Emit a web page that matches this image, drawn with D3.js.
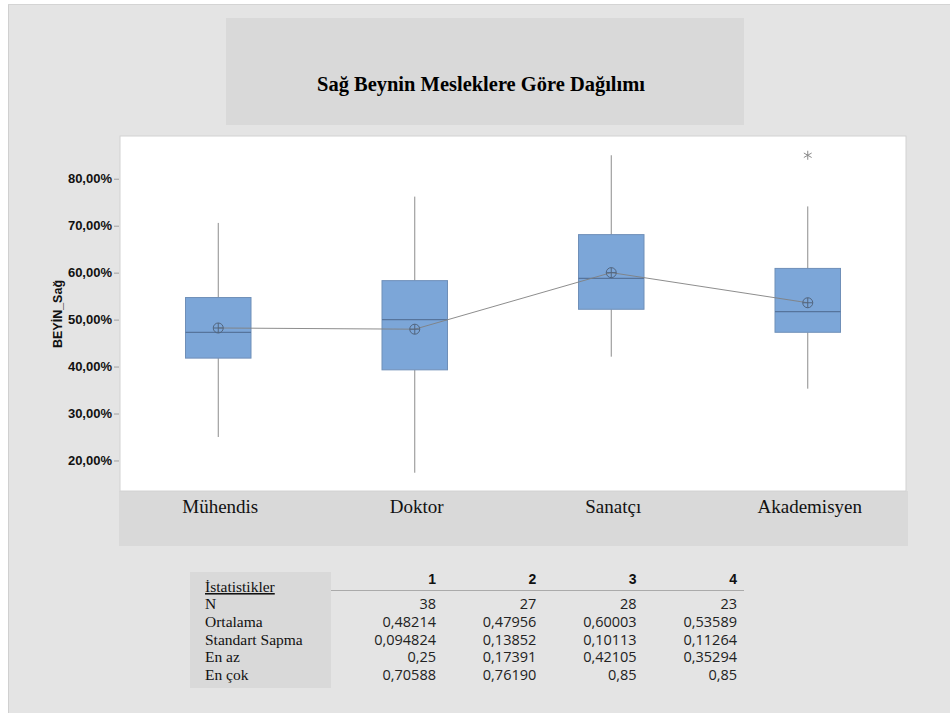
<!DOCTYPE html>
<html>
<head>
  <meta charset="utf-8">
  <title>Sağ Beynin Mesleklere Göre Dağılımı</title>
  <style>
    body { margin: 0; background: #ffffff; }
    svg { display: block; }
  </style>
</head>
<body>
  <div id="chart"></div>

  <script src="https://d3js.org/d3.v7.min.js"></script>
  <script>
    // Groups and box values
    var categories = ["Mühendis", "Doktor", "Sanatçı", "Akademisyen"];
    var q1 = [0.418, 0.393, 0.522, 0.473];
    var medians = [0.473, 0.500, 0.588, 0.517];
    var q3 = [0.547, 0.583, 0.681, 0.609];
    var whiskerLow = [0.25, 0.17391, 0.42105, 0.35294];
    var whiskerHigh = [0.70588, 0.76190, 0.85, 0.741];
    var means = [0.48214, 0.47956, 0.60003, 0.53589];
    var outliers = [[], [], [], [0.85]];

    var yTicks = [0.2, 0.3, 0.4, 0.5, 0.6, 0.7, 0.8];

    // Statistics table
    var statColumns = ["1", "2", "3", "4"];
    var statRows = ["N", "Ortalama", "Standart Sapma", "En az", "En çok"];
    var statN = ["38", "27", "28", "23"];
    var statMean = ["0,48214", "0,47956", "0,60003", "0,53589"];
    var statSd = ["0,094824", "0,13852", "0,10113", "0,11264"];
    var statMin = ["0,25", "0,17391", "0,42105", "0,35294"];
    var statMax = ["0,70588", "0,76190", "0,85", "0,85"];

    var W = 950, H = 713;
    var plot = { left: 120, right: 906, top: 136, bottom: 491 };

    var svg = d3.select("#chart").append("svg")
      .attr("width", W)
      .attr("height", H);

    // page background
    svg.append("rect").attr("x", 8).attr("y", 4).attr("width", W - 8).attr("height", H - 4)
      .attr("fill", "#e4e4e4");
    svg.append("line").attr("x1", 8.5).attr("x2", 8.5).attr("y1", 4).attr("y2", H)
      .attr("stroke", "#d0d0d0");
    svg.append("line").attr("x1", 8).attr("x2", W).attr("y1", 4.5).attr("y2", 4.5)
      .attr("stroke", "#d4d4d4");

    // title box
    svg.append("rect").attr("x", 226).attr("y", 18).attr("width", 518).attr("height", 107)
      .attr("fill", "#d9d9d9");
    svg.append("text")
      .attr("x", 481).attr("y", 91)
      .attr("text-anchor", "middle")
      .attr("font-family", "Liberation Serif, serif")
      .attr("font-weight", "bold")
      .attr("font-size", 20)
      .attr("textLength", 328)
      .attr("lengthAdjust", "spacingAndGlyphs")
      .text("Sağ Beynin Mesleklere Göre Dağılımı");

    // plot area + label band
    svg.append("rect").attr("x", 119).attr("y", plot.bottom).attr("width", 789).attr("height", 55)
      .attr("fill", "#d9d9d9");
    svg.append("rect").attr("x", plot.left).attr("y", plot.top)
      .attr("width", plot.right - plot.left).attr("height", plot.bottom - plot.top)
      .attr("fill", "#ffffff").attr("stroke", "#d2d2d2");

    var x = d3.scaleBand().domain(categories).range([plot.left, plot.right]);
    var y = d3.scaleLinear().domain([0.135, 0.891]).range([plot.bottom, plot.top]);

    // y axis
    var yAxis = d3.axisLeft(y)
      .tickValues(yTicks)
      .tickSize(5)
      .tickFormat(function(d) { return d3.format(".2f")(d * 100).replace(".", ",") + "%"; });
    var gy = svg.append("g").attr("transform", "translate(" + (plot.left - 1) + ",0)").call(yAxis);
    gy.select(".domain").remove();
    gy.selectAll(".tick line").attr("stroke", "#a0a0a0");
    gy.selectAll(".tick text")
      .attr("font-family", "Liberation Sans, Arial, sans-serif")
      .attr("font-weight", "bold")
      .attr("font-size", 13)
      .attr("fill", "#111")
      .attr("x", -7);

    svg.append("text")
      .attr("transform", "translate(62,314) rotate(-90)")
      .attr("text-anchor", "middle")
      .attr("font-family", "Liberation Sans, Arial, sans-serif")
      .attr("font-weight", "bold")
      .attr("font-size", 12.5)
      .attr("fill", "#111")
      .text("BEYİN_Sağ");

    // category labels
    svg.selectAll(".cat").data(categories).enter().append("text")
      .attr("x", function(d) { return x(d) + x.bandwidth() / 2 + 2; })
      .attr("y", 513)
      .attr("text-anchor", "middle")
      .attr("font-family", "Liberation Serif, serif")
      .attr("font-size", 19)
      .attr("fill", "#111")
      .text(function(d) { return d; });

    var boxW = x.bandwidth() / 3;
    var cx = function(i) { return x(categories[i]) + x.bandwidth() / 2; };

    categories.forEach(function(c, i) {
      var g = svg.append("g");
      // whiskers
      g.append("line").attr("x1", cx(i)).attr("x2", cx(i))
        .attr("y1", y(whiskerHigh[i])).attr("y2", y(q3[i]))
        .attr("stroke", "#8c8c8c");
      g.append("line").attr("x1", cx(i)).attr("x2", cx(i))
        .attr("y1", y(q1[i])).attr("y2", y(whiskerLow[i]))
        .attr("stroke", "#8c8c8c");
      // box
      g.append("rect")
        .attr("x", cx(i) - boxW / 2).attr("width", boxW)
        .attr("y", y(q3[i])).attr("height", y(q1[i]) - y(q3[i]))
        .attr("fill", "#7ca6d8").attr("stroke", "#6f8fb8");
      // median
      g.append("line")
        .attr("x1", cx(i) - boxW / 2).attr("x2", cx(i) + boxW / 2)
        .attr("y1", y(medians[i])).attr("y2", y(medians[i]))
        .attr("stroke", "#56749c").attr("stroke-width", 1.3);
      // outliers
      outliers[i].forEach(function(v) {
        var oy = y(v), r = 4.5;
        [0, 60, 120].forEach(function(a) {
          var rad = a * Math.PI / 180;
          g.append("line")
            .attr("x1", cx(i) - r * Math.sin(rad)).attr("x2", cx(i) + r * Math.sin(rad))
            .attr("y1", oy - r * Math.cos(rad)).attr("y2", oy + r * Math.cos(rad))
            .attr("stroke", "#8a8a8a");
        });
      });
    });

    // mean connect line
    var meanLine = d3.line()
      .x(function(d, i) { return cx(i); })
      .y(function(d) { return y(d); });
    svg.append("path").datum(means)
      .attr("d", meanLine)
      .attr("fill", "none")
      .attr("stroke", "#808080")
      .attr("stroke-width", 0.9);

    // mean symbols: circle with cross
    means.forEach(function(m, i) {
      var g = svg.append("g").attr("transform", "translate(" + cx(i) + "," + y(m) + ")");
      g.append("circle").attr("r", 5).attr("fill", "none").attr("stroke", "#52657e");
      g.append("line").attr("x1", -5).attr("x2", 5).attr("stroke", "#52657e");
      g.append("line").attr("y1", -5).attr("y2", 5).attr("stroke", "#52657e");
    });

    // statistics table
    var tbl = svg.append("g");
    tbl.append("rect").attr("x", 190).attr("y", 572).attr("width", 141).attr("height", 116)
      .attr("fill", "#d9d9d9");
    tbl.append("text")
      .attr("x", 205).attr("y", 592)
      .attr("font-family", "Liberation Serif, serif")
      .attr("font-size", 15.5)
      .attr("text-decoration", "underline")
      .attr("fill", "#111")
      .text("İstatistikler");
    tbl.append("line").attr("x1", 331).attr("x2", 744).attr("y1", 590.5).attr("y2", 590.5)
      .attr("stroke", "#aaaaaa");

    var colX = d3.scalePoint().domain(statColumns).range([436, 737]);
    var rowY = d3.scalePoint().domain(statRows).range([609, 680]);
    var cols = [statN, statMean, statSd, statMin, statMax];

    tbl.selectAll(".colh").data(statColumns).enter().append("text")
      .attr("x", function(d) { return colX(d); })
      .attr("y", 584)
      .attr("text-anchor", "end")
      .attr("font-family", "Liberation Sans, Arial, sans-serif")
      .attr("font-weight", "bold")
      .attr("font-size", 14)
      .attr("fill", "#111")
      .text(function(d) { return d; });

    statRows.forEach(function(r, ri) {
      tbl.append("text")
        .attr("x", 205).attr("y", rowY(r))
        .attr("font-family", "Liberation Serif, serif")
        .attr("font-size", 15.5)
        .attr("fill", "#111")
        .text(r);
      cols[ri].forEach(function(v, ci) {
        tbl.append("text")
          .attr("x", colX(statColumns[ci])).attr("y", rowY(r))
          .attr("text-anchor", "end")
          .attr("font-family", "Open Sans, sans-serif")
          .attr("font-size", 14.5)
          .attr("fill", "#222")
          .text(v);
      });
    });
  </script>
</body>
</html>
